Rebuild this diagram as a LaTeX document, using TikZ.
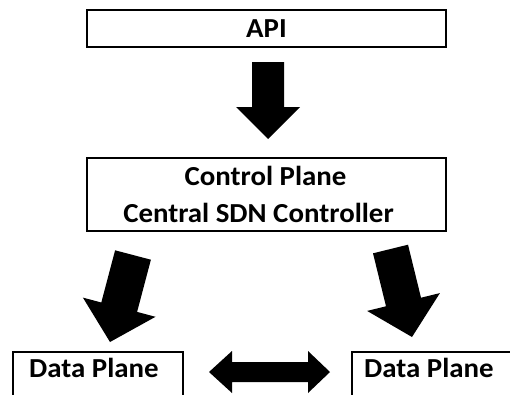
\documentclass[tikz,border=0pt]{standalone}
\usepackage{fontspec}
\setmainfont{Carlito}[FakeStretch=1.05]
\begin{document}
\begin{tikzpicture}[x=1pt,y=-1pt,
  box/.style={draw=black,line width=2pt,inner sep=0pt,fill=none},
  lbl/.style={font=\fontsize{27.5}{32}\selectfont\bfseries,inner sep=0pt,anchor=base},
  blockarrow/.style={fill=black,draw=none}]
\useasboundingbox (0,0) rectangle (510,394);
\clip (0,0) rectangle (510,394);

% boxes
\node[box,minimum width=359pt,minimum height=37pt] (api) at (266.5,28.5) {};
\node[box,minimum width=359pt,minimum height=73pt] (ctrl) at (266.5,194.5) {};
\node[box,minimum width=170pt,minimum height=68pt] (dpl) at (98,386) {};
\node[box,minimum width=208pt,minimum height=68pt] (dpr) at (456,386) {};

% labels
\node[lbl] (apit) at (266.5,37) {API};
\node[lbl] (ctrlt1) at (265.5,185) {Control Plane};
\node[lbl] (ctrlt2) at (258.5,222) {Central SDN Controller};
\node[lbl,anchor=base west] (dplt) at (29,377) {Data Plane};
\node[lbl,anchor=base west] (dprt) at (364,377) {Data Plane};

% API -> control plane
\fill[blockarrow] (252,62) -- (284,62) -- (284,107) -- (300,107) -- (268,139)
  -- (236,107) -- (252,107) -- cycle;

% control plane -> left data plane
\fill[blockarrow] (115.1,250.3) -- (150.9,259.7) -- (137.1,311.9) -- (155.5,316.8)
  -- (110,342) -- (82.9,297.6) -- (101.3,302.5) -- cycle;

% control plane -> right data plane
\fill[blockarrow] (373.0,253.3) -- (408.0,244.7) -- (421.0,297.7) -- (439.9,293.1)
  -- (412,337) -- (367.1,310.9) -- (386.0,306.3) -- cycle;

% data plane <-> data plane
\fill[blockarrow] (209,372) -- (232,351) -- (232,362) -- (308,362) -- (308,351)
  -- (330,372) -- (308,393) -- (308,382) -- (232,382) -- (232,393) -- cycle;
\end{tikzpicture}
\end{document}
